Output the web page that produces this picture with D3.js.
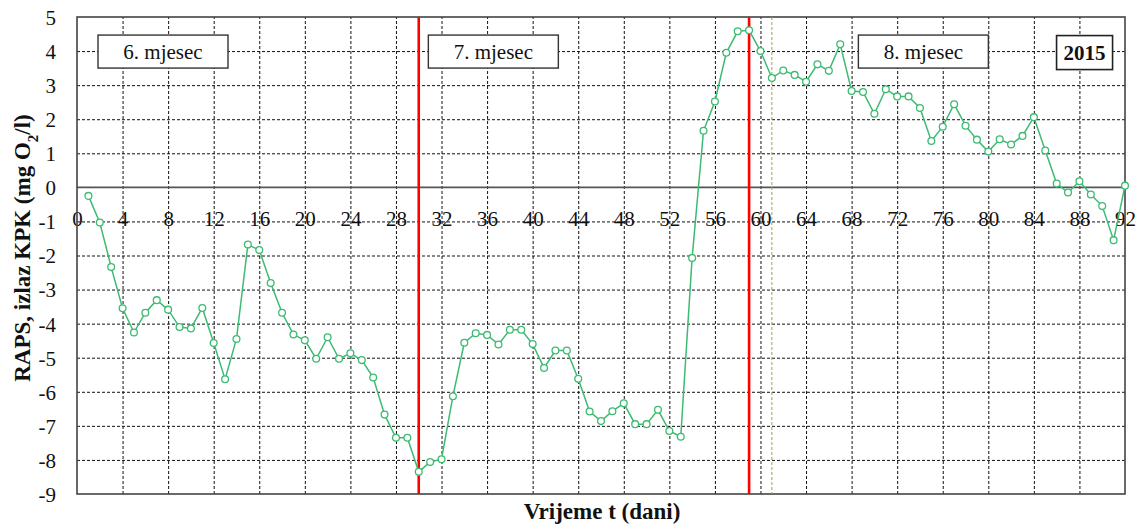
<!DOCTYPE html>
<html lang="hr">
<head>
<meta charset="utf-8">
<title>RAPS, izlaz KPK 2015</title>
<script src="https://cdnjs.cloudflare.com/ajax/libs/d3/7.8.5/d3.min.js"></script>
<style>
  body { margin: 0; background: #fff; }
  .grid line { stroke: #111; stroke-width: 1; stroke-dasharray: 3,2; }
  .grid path { display: none; }
  .xlab path, .ylab path, .xlab line, .ylab line { display: none; }
</style>
</head>
<body>
<script>
// RAPS na izlazu KPK, dani 1..92 (lipanj-kolovoz 2015)
var raps = [
  -0.25, -1.03, -2.34, -3.55, -4.26, -3.68, -3.31, -3.59, -4.10, -4.14,
  -3.54, -4.57, -5.63, -4.45, -1.68, -1.84, -2.81, -3.68, -4.32, -4.49,
  -5.03, -4.40, -5.03, -4.87, -5.07, -5.58, -6.67, -7.35, -7.35, -8.35,
  -8.06, -7.98, -6.13, -4.56, -4.28, -4.33, -4.61, -4.18, -4.18, -4.60,
  -5.30, -4.79, -4.79, -5.62, -6.58, -6.86, -6.57, -6.34, -6.95, -6.95,
  -6.53, -7.15, -7.32, -2.07, 1.66, 2.52, 3.95, 4.58, 4.61, 4.00,
  3.21, 3.43, 3.30, 3.10, 3.61, 3.42, 4.20, 2.83, 2.80, 2.16,
  2.88, 2.67, 2.67, 2.33, 1.36, 1.78, 2.44, 1.81, 1.40, 1.05,
  1.41, 1.26, 1.51, 2.06, 1.08, 0.11, -0.15, 0.18, -0.21, -0.55,
  -1.55, 0.05
];
var xTicks = [0, 4, 8, 12, 16, 20, 24, 28, 32, 36, 40, 44, 48, 52, 56, 60, 64, 68, 72, 76, 80, 84, 88, 92];
var yTicks = [5, 4, 3, 2, 1, 0, -1, -2, -3, -4, -5, -6, -7, -8, -9];
var monthLines = [30, 59];      // crvene linije
var monthStart = [61];          // tanka isprekidana
var monthLabels = ["6. mjesec", "7. mjesec", "8. mjesec"];
var monthLabelDay = [7.55, 36.55, 74.3];

var serif = "'Liberation Serif', 'DejaVu Serif', serif";

var W = 1142, H = 526;
var m = {top: 17, right: 17, bottom: 32, left: 77};
var w = W - m.left - m.right, h = H - m.top - m.bottom;

var x = d3.scaleLinear().domain([0, 92]).range([0, w]);
var y = d3.scaleLinear().domain([-9, 5]).range([h, 0]);

var svg = d3.select("body").append("svg")
  .attr("width", W).attr("height", H);
var g = svg.append("g").attr("transform", "translate(" + m.left + "," + m.top + ")");

// mreza
g.append("g").attr("class", "grid")
  .attr("transform", "translate(0," + h + ")")
  .call(d3.axisBottom(x).tickValues(xTicks.slice(1, -1)).tickSize(-h).tickFormat(""));
g.append("g").attr("class", "grid")
  .call(d3.axisLeft(y).tickValues(yTicks.filter(function(v){ return v != 0 && v != 5 && v != -9; }))
    .tickSize(-w).tickFormat(""));

// nulta linija
g.append("line")
  .attr("x1", 0).attr("x2", w).attr("y1", y(0)).attr("y2", y(0))
  .style("stroke", "#555").style("stroke-width", 1.6);

// oznake x osi, na liniji -1
var xa = g.append("g").attr("class", "xlab")
  .attr("transform", "translate(0," + y(-1) + ")")
  .call(d3.axisBottom(x).tickValues(xTicks).tickSize(0).tickFormat(String));
xa.selectAll("text").attr("y", -3).attr("dy", "0.35em")
  .style("font-family", serif).style("font-size", "21px").style("fill", "#111");

var ya = g.append("g").attr("class", "ylab")
  .call(d3.axisLeft(y).tickValues(yTicks).tickSize(0).tickPadding(21).tickFormat(String));
ya.selectAll("text").attr("dy", "0.35em")
  .style("font-family", serif).style("font-size", "21px").style("fill", "#111");

// okvir
g.append("rect")
  .attr("width", w).attr("height", h)
  .style("fill", "none").style("stroke", "#444").style("stroke-width", 1.6);

// granice mjeseci
g.selectAll(".mline").data(monthLines).enter().append("line")
  .attr("x1", x).attr("x2", x).attr("y1", 0).attr("y2", h)
  .style("stroke", "#ff0000").style("stroke-width", 2.6);
g.selectAll(".sline").data(monthStart).enter().append("line")
  .attr("x1", x).attr("x2", x).attr("y1", 0).attr("y2", h)
  .style("stroke", "#9da055").style("stroke-width", 1).style("stroke-dasharray", "3,2");

// natpisi mjeseci
var boxes = g.selectAll(".mbox").data(monthLabels).enter().append("g")
  .attr("transform", function(d, i) { return "translate(" + x(monthLabelDay[i]) + "," + (y(4) + 1) + ")"; });
boxes.append("rect")
  .attr("x", -65).attr("y", -17).attr("width", 130).attr("height", 33)
  .style("fill", "#fff").style("stroke", "#333").style("stroke-width", 1.4);
boxes.append("text")
  .attr("text-anchor", "middle").attr("dy", "0.35em")
  .style("font-family", serif).style("font-size", "21px").style("fill", "#111")
  .text(function(d) { return d; });

var yr = g.append("g").attr("transform", "translate(" + x(88.45) + "," + (y(4) + 1.5) + ")");
yr.append("rect")
  .attr("x", -28).attr("y", -17).attr("width", 56).attr("height", 34)
  .style("fill", "#fff").style("stroke", "#222").style("stroke-width", 1.6);
yr.append("text")
  .attr("text-anchor", "middle").attr("dy", "0.35em")
  .style("font-family", serif).style("font-size", "21px").style("font-weight", "bold").style("fill", "#111")
  .text("2015");

// serija
var line = d3.line()
  .x(function(d, i) { return x(i + 1); })
  .y(function(d) { return y(d); });

g.append("path").datum(raps)
  .attr("d", line)
  .style("fill", "none").style("stroke", "#3dbb72").style("stroke-width", 1.5);

g.selectAll(".pt").data(raps).enter().append("circle")
  .attr("cx", function(d, i) { return x(i + 1); })
  .attr("cy", function(d) { return y(d); })
  .attr("r", 3.4)
  .style("fill", "#fff").style("stroke", "#3dbb72").style("stroke-width", 1.3);

// naslovi osi
svg.append("text")
  .attr("transform", "translate(30,248) rotate(-90)")
  .attr("text-anchor", "middle")
  .style("font-family", serif).style("font-size", "23px").style("font-weight", "bold").style("fill", "#111")
  .html('RAPS, izlaz KPK (mg O<tspan baseline-shift="sub" font-size="15px">2</tspan>/l)');

svg.append("text")
  .attr("x", 602).attr("y", 519)
  .attr("text-anchor", "middle")
  .style("font-family", serif).style("font-size", "23px").style("font-weight", "bold").style("fill", "#111")
  .text("Vrijeme t (dani)");
</script>
</body>
</html>
